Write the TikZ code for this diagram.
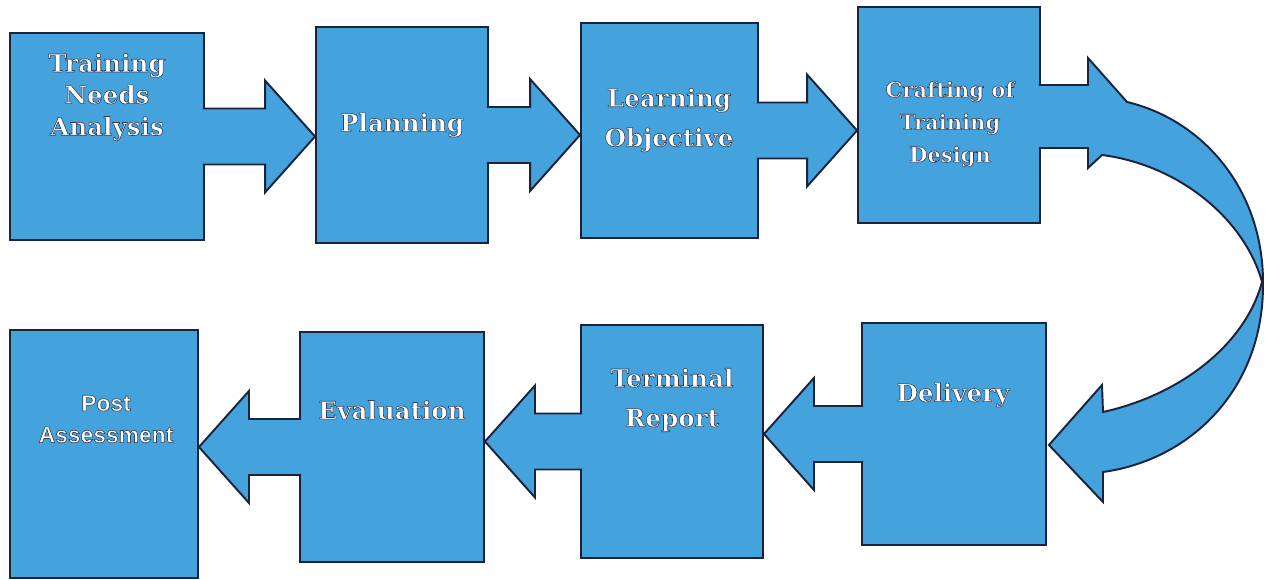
\documentclass[tikz,border=0pt]{standalone}
\usepackage{fontspec}
\setmainfont{DejaVu Serif}
\newfontfamily\sansfam{Liberation Sans}
\usetikzlibrary{calc}
\definecolor{boxblue}{RGB}{68,162,221}
\definecolor{edgenavy}{RGB}{26,34,60}
% white letters with a thin dark rim (pdf text render mode 2)
\newcommand{\embossed}[1]{\special{pdf:literal direct 0.22 0.24 0.33 RG 0.35 w 2 Tr}#1\special{pdf:literal direct 0 Tr}}
\tikzset{
  stage/.style={rectangle, draw=edgenavy, fill=boxblue, line width=1.1pt, inner sep=0pt},
  stagetext/.style={text=white, align=center, font=\bfseries\fontsize{14}{18}\selectfont},
  fatarrow/.style={draw=edgenavy, fill=boxblue, line width=1.1pt, line join=miter}
}
% straight block arrow, tail on #1, tip on #2
\newcommand{\fatarrow}[2]{%
  \filldraw[fatarrow] let \p1=(#1), \p2=(#2), \n1={sign(\x2-\x1)} in
    ({\x1-(\n1)*1.2pt},{\y1+5.6mm}) -- ({\x2-(\n1)*10mm},{\y1+5.6mm}) -- ({\x2-(\n1)*10mm},{\y1+11.2mm})
    -- (\x2,\y1) -- ({\x2-(\n1)*10mm},{\y1-11.2mm}) -- ({\x2-(\n1)*10mm},{\y1-5.6mm}) -- ({\x1-(\n1)*1.2pt},{\y1-5.6mm});
}

\begin{document}
\begin{tikzpicture}[x=0.2mm, y=-0.2mm]
  \useasboundingbox (0,0) rectangle (1269,580);

  % Top row
  \node[stage, minimum width=38.8mm, minimum height=41.4mm] (tna) at (107,136.5) {};
  \node[stage, minimum width=34.4mm, minimum height=43.2mm] (plan) at (402,135) {};
  \node[stage, minimum width=35.4mm, minimum height=43mm] (lobj) at (669.5,130.5) {};
  \node[stage, minimum width=36.4mm, minimum height=43.2mm] (design) at (949,115) {};

  % Bottom row
  \node[stage, minimum width=37.6mm, minimum height=49.6mm] (post) at (104,454) {};
  \node[stage, minimum width=36.8mm, minimum height=46mm] (evaluation) at (392,447) {};
  \node[stage, minimum width=36.4mm, minimum height=46.6mm] (report) at (672,441.5) {};
  \node[stage, minimum width=36.8mm, minimum height=44.4mm] (delivery) at (954,434) {};

  % Arrows between stages
  \fatarrow{tna.east}{plan.west}
  \fatarrow{plan.east}{lobj.west}
  \fatarrow{lobj.east}{design.west}
  \fatarrow{delivery.west}{report.east}
  \fatarrow{report.west}{evaluation.east}
  \fatarrow{evaluation.west}{post.east}

  % Turn from design down to delivery
  \filldraw[fatarrow] ($(design.east)+(-2,-30)$) -- (1088,85) -- (1088,58) -- (1127,102)
    .. controls (1203,120) and (1264,190) .. (1263,285)
    .. controls (1263,390) and (1190,460) .. (1103,472) -- (1103,502)
    -- ($(delivery.east)+(2,11)$) -- (1102,385) -- (1103,412)
    .. controls (1180,395) and (1245,345) .. (1262,282)
    .. controls (1245,220) and (1180,165) .. (1102,155) -- (1088,168) -- (1088,148)
    -- ($(design.east)+(-2,33)$);

  % Labels
  \node[stagetext] (tna-txt) at (107,97) {\embossed{Training\\Needs\\Analysis}};
  \node[stagetext] (plan-txt) at (402,125) {\embossed{Planning}};
  \node[stagetext] (lobj-txt) at (669,120) {\embossed{Learning\\[1.6mm]Objective}};
  \node[stagetext, font=\bfseries\fontsize{12}{18.5}\selectfont] (design-txt) at (950,124) {\embossed{Crafting of\\Training\\Design}};
  \node[stagetext] (delivery-txt) at (953,395) {\embossed{Delivery}};
  \node[stagetext] (report-txt) at (672,400) {\embossed{Terminal\\[1.6mm]Report}};
  \node[stagetext] (evaluation-txt) at (392,410) {\embossed{Evaluation}};
  \node[stagetext, font=\sansfam\bfseries\fontsize{13}{18}\selectfont] (post-txt) at (106,419) {\embossed{Post\\Assessment}};
\end{tikzpicture}
\end{document}
